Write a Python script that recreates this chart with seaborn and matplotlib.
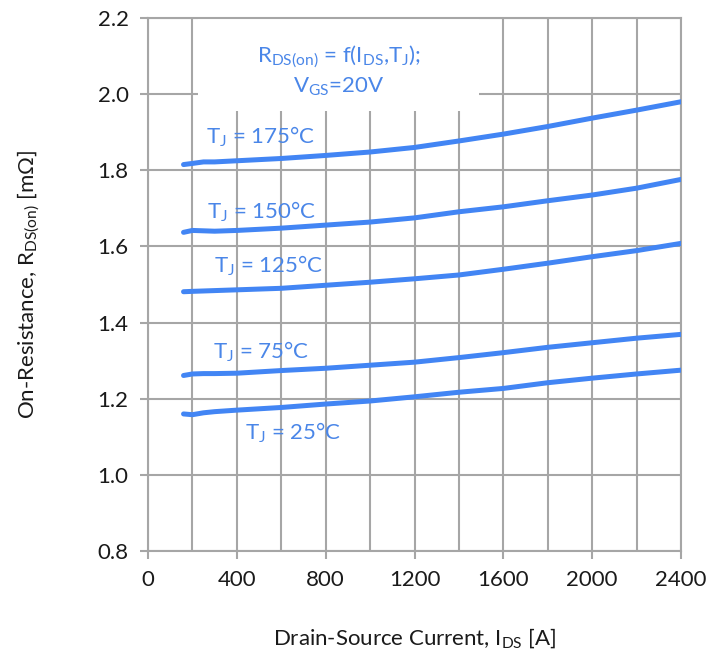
import matplotlib
matplotlib.use("Agg")
import matplotlib.pyplot as plt
import numpy as np
import pandas as pd
import seaborn as sns
from matplotlib.patches import Rectangle

# Drain-source current sample points [A]
current_a = [160, 200, 250, 300, 400, 600, 800, 1000, 1200, 1400, 1600, 1800, 2000, 2200, 2400]

# On-resistance per junction temperature [mOhm]
r_25c = [1.160, 1.158, 1.163, 1.166, 1.170, 1.177, 1.186, 1.194, 1.205, 1.217, 1.227, 1.242, 1.254, 1.265, 1.275]
r_75c = [1.261, 1.265, 1.266, 1.266, 1.267, 1.274, 1.280, 1.288, 1.296, 1.308, 1.321, 1.335, 1.347, 1.359, 1.369]
r_125c = [1.481, 1.482, 1.483, 1.484, 1.486, 1.490, 1.498, 1.506, 1.515, 1.525, 1.540, 1.556, 1.573, 1.589, 1.608]
r_150c = [1.637, 1.642, 1.641, 1.640, 1.642, 1.648, 1.656, 1.664, 1.675, 1.691, 1.704, 1.720, 1.735, 1.753, 1.776]
r_175c = [1.815, 1.818, 1.822, 1.822, 1.825, 1.831, 1.839, 1.848, 1.860, 1.877, 1.895, 1.915, 1.937, 1.958, 1.980]

temps = ["25", "75", "125", "150", "175"]
series = [r_25c, r_75c, r_125c, r_150c, r_175c]

# Curve labels: (x, y) anchor of each label's baseline start
label_x = [437, 291, 297, 264, 261]
label_y = [1.093, 1.306, 1.531, 1.674, 1.869]

x_ticks = [0, 400, 800, 1200, 1600, 2000, 2400]
y_ticks = [0.8, 1.0, 1.2, 1.4, 1.6, 1.8, 2.0, 2.2]

df = pd.DataFrame({
    "I_DS": np.tile(current_a, len(temps)),
    "R": np.concatenate(series),
    "T": np.repeat(temps, len(current_a)),
})

sns.set_theme(style="white")
plt.rcParams["font.family"] = ["Lato", "DejaVu Sans"]
plt.rcParams["mathtext.fontset"] = "custom"
plt.rcParams["mathtext.rm"] = "Lato"
plt.rcParams["mathtext.default"] = "regular"

LINE = "#4285F4"
TEXT_BLUE = "#4a86e8"
GRID = "#a6a6a6"
INK = "#1a1a1a"
FS = 16

fig = plt.figure(figsize=(7.26, 6.54), dpi=100)
ax = fig.add_axes([148 / 726, 1 - 551 / 654, (681 - 148) / 726, (551 - 18) / 654])

sns.lineplot(data=df, x="I_DS", y="R", hue="T", palette=[LINE] * len(temps),
             linewidth=3.6, legend=False, ax=ax, zorder=3,
             solid_capstyle="round")

ax.set_xlim(0, 2400)
ax.set_ylim(0.8, 2.2)
ax.set_xticks(x_ticks)
ax.set_xticks(np.arange(0, 2401, 200), minor=True)
ax.set_yticks(y_ticks)
ax.set_yticklabels([f"{v:.1f}" for v in y_ticks])
ax.grid(True, which="both", color=GRID, linewidth=1.5, zorder=0)
ax.set_axisbelow(True)

for side in ["left", "bottom", "top", "right"]:
    ax.spines[side].set_color(GRID)
    ax.spines[side].set_linewidth(1.5)
    ax.spines[side].set_zorder(2.5)

ax.tick_params(axis="both", which="major", direction="out", length=6, width=1.5,
               color=GRID, labelsize=FS, labelcolor=INK, pad=8)
ax.tick_params(axis="both", which="minor", length=0)
ax.tick_params(axis="x", bottom=True)
ax.tick_params(axis="y", left=True)

ax.set_xlabel("Drain-Source Current, I$_{DS}$ [A]", fontsize=FS, color=INK, labelpad=26)
ax.set_ylabel("On-Resistance, R$_{DS(on)}$ [mΩ]", fontsize=FS, color=INK, labelpad=40)

# White panel behind the condition text
ax.add_patch(Rectangle((225, 1.956), 1490 - 225, 2.2 - 1.956, facecolor="white",
                       edgecolor="none", zorder=1))
ax.text(860, 2.084, "R$_{DS(on)}$ = f(I$_{DS}$,T$_{J}$);", ha="center", va="baseline",
        fontsize=FS, color=TEXT_BLUE, zorder=4)
ax.text(860, 2.003, "V$_{GS}$=20V", ha="center", va="baseline",
        fontsize=FS, color=TEXT_BLUE, zorder=4)

for t, lx, ly in zip(temps, label_x, label_y):
    ax.text(lx, ly, "T$_{J}$ = " + t + "°C", ha="left", va="baseline",
            fontsize=FS, color=TEXT_BLUE, zorder=4)

fig.savefig("out.png", dpi=100)
